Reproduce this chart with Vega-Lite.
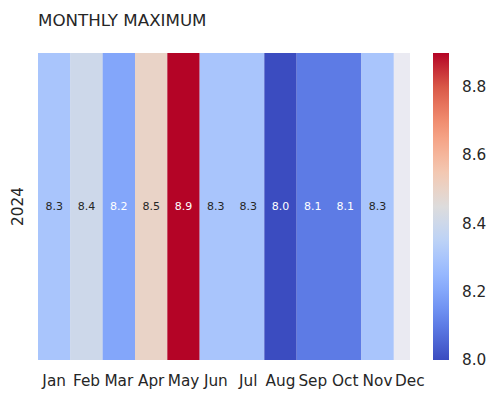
{
  "$schema": "https://vega.github.io/schema/vega-lite/v6.json",
  "width": 372,
  "height": 307,
  "autosize": {"type": "none"},
  "padding": {"left": 38, "top": 53, "right": 86, "bottom": 39},
  "background": "white",
  "title": {"text": "MONTHLY MAXIMUM", "anchor": "start", "frame": "group", "font": "DejaVu Sans", "fontSize": 16.7, "fontWeight": "normal", "color": "#262626", "baseline": "alphabetic", "offset": 10},
  "config": {"view": {"fill": "#EAEAF2", "stroke": null}, "font": "DejaVu Sans"},
  "data": {"values": [
    {"year": "2024", "month": "Jan", "value": 8.3},
    {"year": "2024", "month": "Feb", "value": 8.4},
    {"year": "2024", "month": "Mar", "value": 8.2},
    {"year": "2024", "month": "Apr", "value": 8.5},
    {"year": "2024", "month": "May", "value": 8.9},
    {"year": "2024", "month": "Jun", "value": 8.3},
    {"year": "2024", "month": "Jul", "value": 8.3},
    {"year": "2024", "month": "Aug", "value": 8.0},
    {"year": "2024", "month": "Sep", "value": 8.1},
    {"year": "2024", "month": "Oct", "value": 8.1},
    {"year": "2024", "month": "Nov", "value": 8.3}
  ]},
  "encoding": {
    "x": {"field": "month", "type": "nominal",
      "scale": {"domain": ["Jan","Feb","Mar","Apr","May","Jun","Jul","Aug","Sep","Oct","Nov","Dec"], "range": [0, 388], "paddingInner": 0, "paddingOuter": 0},
      "axis": {"title": null, "labelAngle": 0, "ticks": false, "domain": false, "grid": false, "labelFontSize": 15.3, "labelColor": "#262626", "labelPadding": 13, "labelFont": "DejaVu Sans"}},
    "y": {"field": "year", "type": "nominal",
      "scale": {"paddingInner": 0, "paddingOuter": 0},
      "axis": {"title": null, "labelAngle": -90, "ticks": false, "domain": false, "grid": false, "labelFontSize": 15.3, "labelColor": "#262626", "labelPadding": 16, "labelBaseline": "alphabetic", "labelAlign": "center", "labelFont": "DejaVu Sans"}}
  },
  "layer": [
    {"mark": {"type": "rect", "clip": true},
     "encoding": {"color": {"field": "value", "type": "quantitative",
       "scale": {"domain": [8.0, 8.9], "range": ["#3b4cc0", "#5977e3", "#7b9ff9", "#9ebeff", "#c0d4f5", "#dddcdc", "#f2cbb7", "#f7ac8e", "#ee8468", "#d65244", "#b40426"], "interpolate": "rgb"},
       "legend": {"orient": "none", "legendX": 395, "legendY": 0, "title": null, "direction": "vertical", "gradientLength": 307, "gradientThickness": 16, "gradientStrokeWidth": 0, "values": [8.0, 8.2, 8.4, 8.6, 8.8], "format": ".1f", "labelFontSize": 15.3, "labelColor": "#262626", "labelOffset": 13, "labelBaseline": "middle", "labelFont": "DejaVu Sans",
         "encode": {"labels": {"update": {"baseline": {"value": "middle"}}}}}}}},
    {"mark": {"type": "text", "fontSize": 11, "font": "DejaVu Sans"},
     "encoding": {"text": {"field": "value", "type": "quantitative", "format": ".1f"},
       "color": {"condition": {"test": "datum.value <= 8.2 || datum.value >= 8.8", "value": "white"}, "value": "#262626"}}}
  ]
}
